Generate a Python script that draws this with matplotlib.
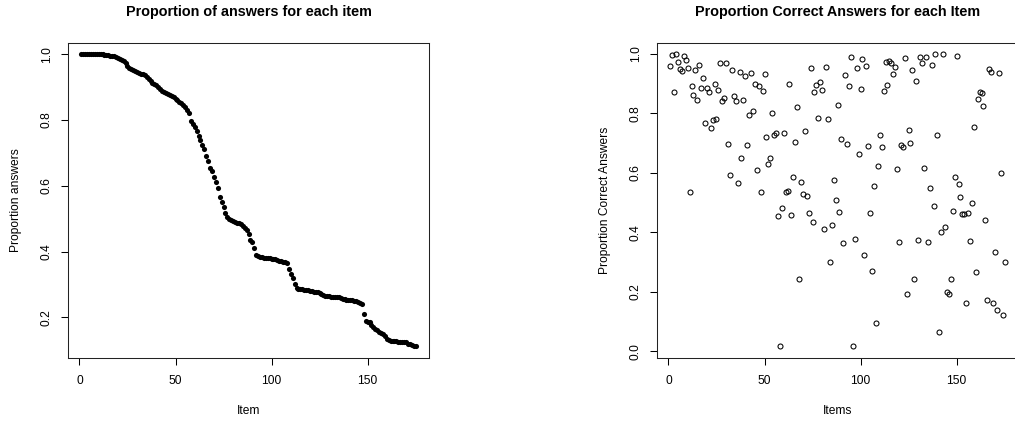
import matplotlib
matplotlib.use("Agg")
import matplotlib.pyplot as plt
import numpy as np

# --- data ---
# left: proportion of answers per item (sorted, 175 items)
prop_answers = [
    1.000, 1.000, 1.000, 1.000, 1.000, 1.000, 1.000, 1.000, 1.000, 1.000,
    1.000, 1.000, 0.999, 0.999, 0.998, 0.996, 0.995, 0.993, 0.991, 0.988,
    0.985, 0.982, 0.978, 0.972, 0.965, 0.958, 0.954, 0.951, 0.949, 0.946,
    0.943, 0.941, 0.940, 0.937, 0.932, 0.924, 0.917, 0.913, 0.909, 0.905,
    0.900, 0.894, 0.888, 0.884, 0.881, 0.878, 0.875, 0.872, 0.869, 0.865,
    0.861, 0.856, 0.851, 0.845, 0.838, 0.830, 0.821, 0.797, 0.789, 0.778,
    0.765, 0.752, 0.738, 0.724, 0.711, 0.690, 0.675, 0.655, 0.645, 0.628,
    0.610, 0.593, 0.565, 0.552, 0.535, 0.518, 0.506, 0.500, 0.495, 0.492,
    0.490, 0.488, 0.486, 0.483, 0.478, 0.472, 0.466, 0.452, 0.436, 0.430,
    0.412, 0.390, 0.386, 0.384, 0.382, 0.381, 0.380, 0.380, 0.379, 0.378,
    0.377, 0.376, 0.374, 0.372, 0.370, 0.369, 0.367, 0.364, 0.348, 0.333,
    0.320, 0.300, 0.290, 0.287, 0.285, 0.285, 0.284, 0.283, 0.282, 0.280,
    0.279, 0.278, 0.277, 0.276, 0.274, 0.271, 0.267, 0.265, 0.264, 0.264,
    0.263, 0.263, 0.262, 0.262, 0.261, 0.259, 0.256, 0.255, 0.254, 0.254,
    0.253, 0.252, 0.251, 0.249, 0.247, 0.245, 0.241, 0.210, 0.190, 0.187,
    0.185, 0.178, 0.171, 0.166, 0.162, 0.157, 0.153, 0.148, 0.142, 0.135,
    0.130, 0.128, 0.127, 0.127, 0.127, 0.126, 0.126, 0.126, 0.125, 0.124,
    0.120, 0.118, 0.116, 0.114, 0.112,
]

# right: proportion correct per item (same 175 items, unsorted)
prop_correct = [
    0.960, 0.997, 0.873, 0.999, 0.972, 0.948, 0.944, 0.993, 0.978, 0.953,
    0.534, 0.892, 0.863, 0.946, 0.844, 0.962, 0.884, 0.918, 0.766, 0.885,
    0.871, 0.749, 0.777, 0.899, 0.780, 0.879, 0.969, 0.841, 0.851, 0.969,
    0.697, 0.593, 0.947, 0.858, 0.842, 0.567, 0.940, 0.648, 0.845, 0.926,
    0.693, 0.795, 0.936, 0.809, 0.900, 0.610, 0.892, 0.534, 0.876, 0.932,
    0.719, 0.629, 0.651, 0.802, 0.727, 0.735, 0.455, 0.016, 0.483, 0.735,
    0.534, 0.539, 0.899, 0.458, 0.585, 0.703, 0.821, 0.243, 0.568, 0.527,
    0.741, 0.522, 0.465, 0.952, 0.433, 0.871, 0.895, 0.785, 0.906, 0.880,
    0.410, 0.955, 0.780, 0.300, 0.424, 0.575, 0.510, 0.827, 0.467, 0.715,
    0.365, 0.930, 0.696, 0.893, 0.991, 0.016, 0.377, 0.953, 0.664, 0.882,
    0.982, 0.322, 0.960, 0.691, 0.466, 0.271, 0.554, 0.094, 0.623, 0.726,
    0.686, 0.874, 0.974, 0.894, 0.976, 0.971, 0.932, 0.955, 0.612, 0.367,
    0.694, 0.688, 0.986, 0.193, 0.743, 0.700, 0.947, 0.244, 0.909, 0.375,
    0.991, 0.971, 0.615, 0.989, 0.366, 0.549, 0.962, 0.488, 0.999, 0.728,
    0.063, 0.400, 0.999, 0.416, 0.199, 0.193, 0.242, 0.473, 0.586, 0.993,
    0.562, 0.519, 0.462, 0.462, 0.163, 0.463, 0.371, 0.499, 0.754, 0.265,
    0.847, 0.873, 0.868, 0.825, 0.440, 0.171, 0.950, 0.940, 0.163, 0.334,
    0.137, 0.935, 0.598, 0.121, 0.299,
]

items = np.arange(1, len(prop_answers) + 1)

x_ticks = [0, 50, 100, 150]
left_yticks = [0.2, 0.4, 0.6, 0.8, 1.0]
right_yticks = [0.0, 0.2, 0.4, 0.6, 0.8, 1.0]

plt.rcParams['font.family'] = ['Liberation Sans', 'DejaVu Sans']

W, H = 1015, 422
LABEL_FS = 8.64
TITLE_FS = 10.4


def r_limits(vals):
    # R pads axis range by 4% on each side
    lo, hi = min(vals), max(vals)
    pad = 0.04 * (hi - lo)
    return lo - pad, hi + pad


def style_axes(ax, yticks):
    ax.set_xticks(x_ticks)
    ax.set_yticks(yticks)
    ax.set_xticklabels([str(t) for t in x_ticks])
    ax.set_yticklabels([f"{t:.1f}" for t in yticks])
    ax.tick_params(axis='both', direction='out', length=5, width=0.75,
                   labelsize=LABEL_FS, pad=7.5, colors='black')
    ax.tick_params(axis='y', labelrotation=90, pad=6)
    for lbl in ax.get_yticklabels():
        lbl.set_verticalalignment('center')
    for s in ax.spines.values():
        s.set_linewidth(0.75)
        s.set_color('#222222')
    ax.set_xlim(r_limits(items))


fig = plt.figure(figsize=(W / 100, H / 100), dpi=100)

# axes boxes in pixels: left 68..429, right 657..1018, top 42.5, bottom 358
bottom = 1 - 358 / H
height = (358 - 42.5) / H
ax1 = fig.add_axes([68 / W, bottom, 361 / W, height])
ax2 = fig.add_axes([657 / W, bottom, 361 / W, height])

# left panel: filled dots
ax1.plot(items, prop_answers, linestyle='none', marker='o', markersize=3.7,
         color='black', markeredgewidth=0)
ax1.set_ylim(r_limits(prop_answers))
style_axes(ax1, left_yticks)
ax1.set_xlabel("Item", fontsize=LABEL_FS, va='center')
ax1.set_ylabel("Proportion answers", fontsize=LABEL_FS, va='center')

# right panel: open circles
ax2.plot(items, prop_correct, linestyle='none', marker='o', markersize=3.6,
         markerfacecolor='none', markeredgecolor='black', markeredgewidth=0.75)
ax2.set_ylim(r_limits(prop_correct))
style_axes(ax2, right_yticks)
ax2.set_xlabel("Items", fontsize=LABEL_FS, va='center')
ax2.set_ylabel("Proportion Correct Answers", fontsize=LABEL_FS, va='center')

for ax in (ax1, ax2):
    ax.xaxis.set_label_coords(0.5, -(410.7 - 358) / 315.5)
    ax.yaxis.set_label_coords(-52 / 361, 0.5)

# titles centred over each box
fig.text((68 + 429) / 2 / W, 1 - 12.3 / H, "Proportion of answers for each item",
         ha='center', va='center', fontsize=TITLE_FS, fontweight='bold')
fig.text((657 + 1018) / 2 / W, 1 - 12.3 / H, "Proportion Correct Answers for each Item",
         ha='center', va='center', fontsize=TITLE_FS, fontweight='bold')

fig.savefig("out.png", dpi=100)
